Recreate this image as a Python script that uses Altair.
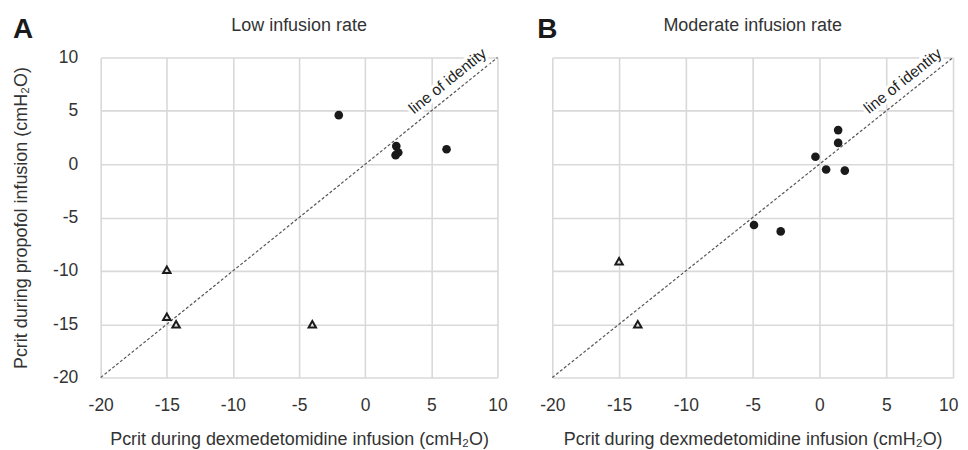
import math
import altair as alt
import pandas as pd

# ---- data ----
ticks = [-20, -15, -10, -5, 0, 5, 10]

low_circle_x = [-2.0, 2.35, 2.3, 2.5, 6.15]
low_circle_y = [4.6, 1.7, 0.85, 1.1, 1.4]
low_tri_x = [-15.0, -15.0, -14.3, -4.0]
low_tri_y = [-9.9, -14.3, -15.0, -15.0]

mod_circle_x = [1.4, 1.4, -0.3, 0.5, 1.9, -4.9, -2.9]
mod_circle_y = [3.2, 2.0, 0.7, -0.5, -0.6, -5.7, -6.3]
mod_tri_x = [-15.0, -13.6]
mod_tri_y = [-9.1, -15.0]

identity_x = [-20, 10]
identity_y = [-20, 10]
identity_label = "line of identity"
identity_label_at = 6.85

x_title = "Pcrit during dexmedetomidine infusion (cmH\u2082O)"
y_title = "Pcrit during propofol infusion (cmH\u2082O)"

FONT = "Liberation Sans"
H = 321


def panel(cx, cy, tx, ty, title, letter, letter_x, show_y, W):
    angle = 360 - math.degrees(math.atan(H / W))
    xs = alt.Scale(domain=[-20, 10], nice=False)
    ys = alt.Scale(domain=[-20, 10], nice=False)
    if show_y:
        xaxis = alt.Axis(values=ticks, title=x_title, labelPadding=19, titlePadding=17,
                         labelFlush=False, labelExpr="toString(datum.value)")
        yaxis = alt.Axis(values=ticks, title=y_title, labelPadding=23, titlePadding=22,
                         labelFlush=False, labelExpr="toString(datum.value)")
    else:
        xaxis = alt.Axis(
            values=ticks, title=x_title, labelPadding=19, titlePadding=17,
            labelFlush=False, labelExpr="toString(datum.value)",
            labelAlign={"condition": {"test": "datum.value == 10", "value": "right"},
                        "value": "center"},
            labelOffset={"condition": {"test": "datum.value == 10", "value": 5},
                         "value": 0},
        )
        yaxis = alt.Axis(values=ticks, title=None, labels=False)
    X = alt.X("x:Q", scale=xs, axis=xaxis)
    Y = alt.Y("y:Q", scale=ys, axis=yaxis)

    line_df = pd.DataFrame({"x": identity_x, "y": identity_y})
    lab_df = pd.DataFrame({"x": [identity_label_at], "y": [identity_label_at], "t": [identity_label]})
    circ_df = pd.DataFrame({"x": cx, "y": cy})
    tri_df = pd.DataFrame({"x": tx, "y": ty})
    head_df = pd.DataFrame({"t": [title]})
    let_df = pd.DataFrame({"t": [letter]})

    halo = alt.Chart(lab_df).mark_text(
        font=FONT, fontSize=15.5, angle=angle, baseline="bottom", align="center",
        dy=-5, fill="white", stroke="white", strokeWidth=6,
    ).encode(x=X, y=Y, text="t:N")
    line = alt.Chart(line_df).mark_line(
        color="#555555", strokeDash=[3, 2], strokeWidth=1.2
    ).encode(x=X, y=Y)
    lab = alt.Chart(lab_df).mark_text(
        font=FONT, fontSize=15.5, angle=angle, baseline="bottom", align="center",
        dy=-5, color="#222222",
    ).encode(x=X, y=Y, text="t:N")
    circles = alt.Chart(circ_df).mark_point(
        shape="circle", filled=True, size=75, color="#1a1a1a", opacity=1
    ).encode(x=X, y=Y)
    tris = alt.Chart(tri_df).mark_point(
        shape="triangle-up", filled=False, size=55, color="#1a1a1a",
        strokeWidth=2, opacity=1
    ).encode(x=X, y=Y)
    head = alt.Chart(head_df).mark_text(
        font=FONT, fontSize=18, align="center", baseline="alphabetic", color="#333333",
    ).encode(x=alt.value(W / 2), y=alt.value(-27), text="t:N")
    letter_mark = alt.Chart(let_df).mark_text(
        font=FONT, fontSize=28, fontWeight="bold", align="left",
        baseline="alphabetic", color="#1a1a1a",
    ).encode(x=alt.value(letter_x), y=alt.value(-20), text="t:N")
    return alt.layer(line, halo, lab, circles, tris, head, letter_mark).properties(
        width=W, height=H,
    )


left = panel(low_circle_x, low_circle_y, low_tri_x, low_tri_y,
             "Low infusion rate", "A", -88, True, 398)
right = panel(mod_circle_x, mod_circle_y, mod_tri_x, mod_tri_y,
              "Moderate infusion rate", "B", -15, False, 402)

chart = alt.hconcat(left, right, spacing=30).properties(
    padding={"left": 4, "top": 7, "right": 2, "bottom": 3}
).configure_view(stroke=None).configure_axis(
    grid=True, gridColor="#d9d9d9", gridWidth=1.6, domain=False, ticks=False,
    labelFont=FONT, labelFontSize=17.5, labelColor="#333333",
    titleFont=FONT, titleFontSize=18, titleFontWeight="normal", titleColor="#333333",
)

chart.save("out.html", embed_options={"renderer": "svg", "actions": False})
